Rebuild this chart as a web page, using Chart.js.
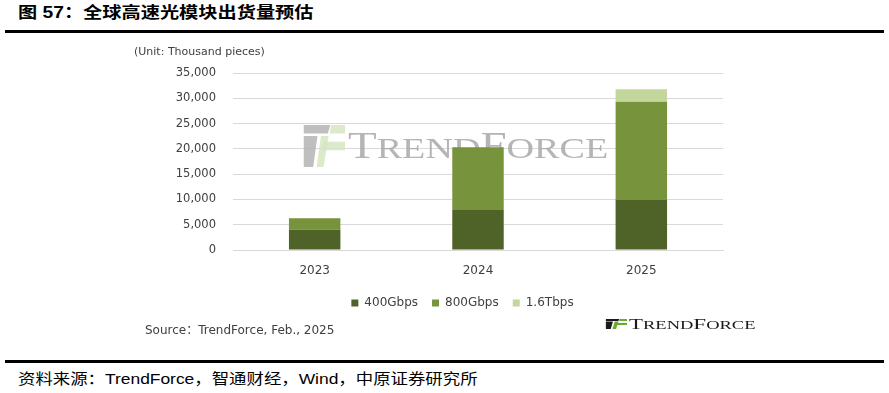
<!DOCTYPE html>
<html>
<head>
<meta charset="utf-8">
<script src="https://cdn.jsdelivr.net/npm/chart.js@4/dist/chart.umd.min.js"></script>
<style>
  html, body { margin: 0; padding: 0; background: #fff; }
  body { width: 889px; height: 393px; position: relative; overflow: hidden; }
  #chart { position: absolute; left: 0; top: 0; }
  .txt { position: absolute; white-space: nowrap; transform-origin: left center; }
  #title { left: 18px; top: 5px; font: bold 16px/16px "Liberation Sans", "Noto Sans CJK SC", sans-serif; color: #000; transform: scaleX(1.2); }
  #foot { left: 18px; top: 371px; font: 15px/15px "Liberation Sans", "Noto Sans CJK SC", sans-serif; color: #000; transform: scaleX(1.16); }
  .rule { position: absolute; left: 5px; width: 879px; height: 3px; background: #000; }
  #unit { left: 134px; top: 44px; font: 11px/15px "DejaVu Sans", sans-serif; color: #404040; }
  #source { left: 145px; top: 322px; font: 12px/16px "DejaVu Sans", "Noto Sans CJK SC", sans-serif; color: #404040; }
</style>
</head>
<body>
<div id="title" class="txt">图 57：全球高速光模块出货量预估</div>
<div class="rule" style="top:30px"></div>
<div class="rule" style="top:360px"></div>
<div id="foot" class="txt">资料来源：TrendForce，智通财经，Wind，中原证券研究所</div>
<canvas id="chart" width="889" height="393"></canvas>
<div id="unit" class="txt">(Unit: Thousand pieces)</div>
<div id="source" class="txt">Source：TrendForce, Feb., 2025</div>
<script>
// shipments, thousand pieces
const YEARS = ['2023', '2024', '2025'];
const GBPS_400 = [4000, 7900, 10000];
const GBPS_800 = [2300, 12400, 19300];
const TBPS_16 = [0, 0, 2500];
const SERIES = ['400Gbps', '800Gbps', '1.6Tbps'];
const COLORS = ['#4f6228', '#77933c', '#c3d69b'];
const Y_MAX = 35000;
const Y_STEP = 5000;

// TrendForce mark: icon + small caps word
const drawIcon = (ctx, x, y, w, h, dark, green) => {
  const P = (pts, col) => {
    ctx.fillStyle = col;
    ctx.beginPath();
    pts.forEach(([px, py], i) => ctx[i ? 'lineTo' : 'moveTo'](x + px * w, y + py * h));
    ctx.closePath();
    ctx.fill();
  };
  P([[0.04, 0], [0.66, 0], [0.6, 0.2], [0.04, 0.2]], dark);
  P([[0.04, 0.26], [0.36, 0.26], [0.26, 1], [0.04, 1]], dark);
  P([[0.68, 0], [1, 0], [1, 0.2], [0.64, 0.2]], green);
  P([[0.5, 0.4], [1, 0.4], [1, 0.6], [0.48, 0.6]], green);
  P([[0.44, 0.26], [0.62, 0.26], [0.5, 1], [0.34, 1]], green);
};

const drawWord = (ctx, x, base, big, small, sx, color) => {
  ctx.save();
  ctx.translate(x, base);
  ctx.scale(sx, 1);
  ctx.fillStyle = color;
  ctx.textBaseline = 'alphabetic';
  ctx.textAlign = 'left';
  let cx = 0;
  [['T', big], ['REND', small], ['F', big], ['ORCE', small]].forEach(([t, s]) => {
    ctx.font = `${s}px "Liberation Serif", serif`;
    ctx.fillText(t, cx, 0);
    cx += ctx.measureText(t).width;
  });
  ctx.restore();
};

const brand = {
  id: 'brand',
  beforeDatasetsDraw(chart) {
    const { ctx, chartArea: a } = chart;
    ctx.save();
    ctx.globalAlpha = 0.85;
    drawIcon(ctx, a.left + 69, a.top + 52, 43, 42, '#b4b4b4', '#d6e6c2');
    drawWord(ctx, a.left + 115, a.top + 85, 37, 30, 1.27, '#a8a8a8');
    ctx.restore();
  },
  afterDraw(chart) {
    const { ctx, chartArea: a } = chart;
    drawIcon(ctx, a.left + 372, a.bottom + 69, 22, 10, '#1a1a1a', '#6aab2e');
    drawWord(ctx, a.left + 396, a.bottom + 79.3, 15.5, 12.5, 1.48, '#1a1a1a');
  }
};

// fixed legend height, legend nudged right to sit under the plot like the original
const legendBox = {
  id: 'legendBox',
  beforeInit(chart) {
    const fit = chart.legend.fit;
    chart.legend.fit = function () {
      fit.bind(chart.legend)();
      this.height = 40;
    };
  },
  afterLayout(chart) {
    chart.legend.left += 16;
    chart.legend.right += 16;
  }
};

new Chart(document.getElementById('chart'), {
  type: 'bar',
  data: {
    labels: YEARS,
    datasets: [GBPS_400, GBPS_800, TBPS_16].map((d, i) => ({
      label: SERIES[i],
      data: d,
      backgroundColor: COLORS[i],
      borderWidth: 0,
      barPercentage: 0.315,
      categoryPercentage: 1
    }))
  },
  options: {
    responsive: false,
    animation: false,
    layout: { padding: { left: 170, right: 166, top: 73, bottom: 70 } },
    plugins: {
      legend: {
        position: 'bottom',
        labels: {
          boxWidth: 7, boxHeight: 7, padding: 14,
          color: '#404040',
          font: { family: 'DejaVu Sans', size: 12 }
        }
      },
      tooltip: { enabled: false }
    },
    scales: {
      x: {
        stacked: true,
        afterFit: s => { s.height = 33; },
        grid: { display: false },
        border: { color: '#d9d9d9' },
        ticks: { color: '#404040', padding: 6, font: { family: 'DejaVu Sans', size: 12 } }
      },
      y: {
        stacked: true,
        min: 0, max: Y_MAX,
        afterFit: s => { s.width = 63; },
        border: { display: false },
        grid: { color: '#d9d9d9', drawTicks: false },
        ticks: {
          stepSize: Y_STEP, padding: 17, color: '#404040',
          font: { family: 'DejaVu Sans', size: 11.5 },
          callback: v => v.toLocaleString('en-US')
        }
      }
    }
  },
  plugins: [legendBox, brand]
});
</script>
</body>
</html>
